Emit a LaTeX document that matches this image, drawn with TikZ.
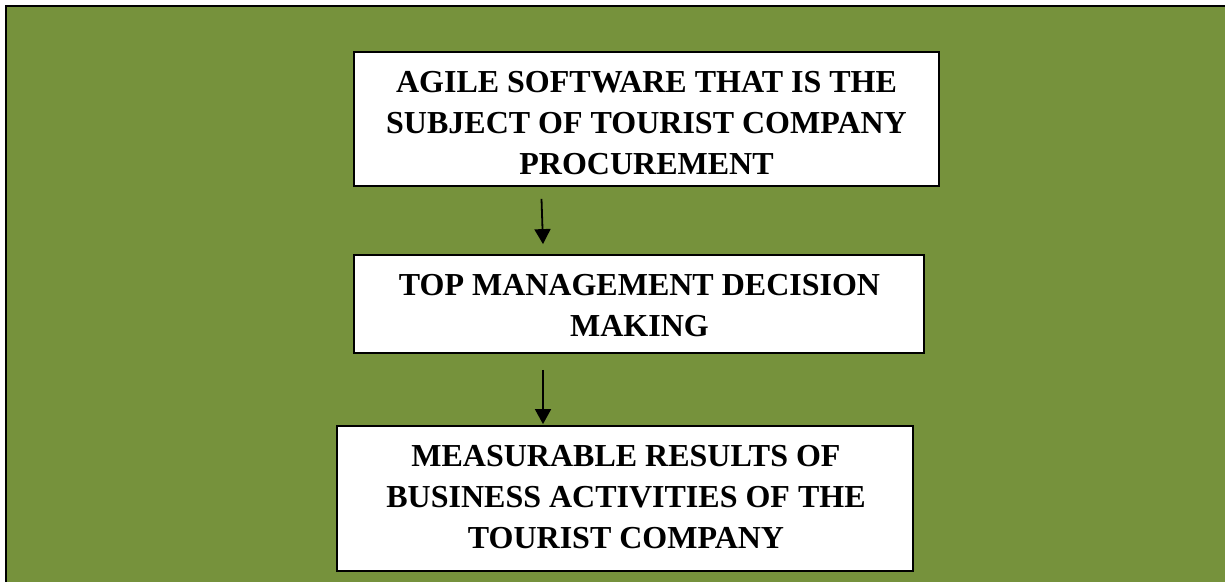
\documentclass[tikz,border=0pt]{standalone}
\usepackage{fontspec}
\setmainfont{Liberation Serif}
\usetikzlibrary{arrows.meta,calc}
\definecolor{olivebg}{RGB}{118,146,60}
\begin{document}
\begin{tikzpicture}[x=1pt,y=-1pt,
  frame/.style={fill=olivebg,draw=black,line width=2.5pt},
  box/.style={draw=black,fill=white,line width=1.8pt,inner sep=0pt},
  txt/.style={font=\bfseries\fontsize{32}{41}\selectfont,align=center,inner sep=0pt},
  arr/.style={line width=1.8pt,-{Triangle[length=15pt,width=16pt]}}]
\useasboundingbox (0,0) rectangle (1225,581);
\clip (0,0) rectangle (1225,581);
\fill[white] (0,0) rectangle (1225,581);
\draw[frame] (6,6) rectangle (1260,620);
% boxes
\node[box,minimum width=585pt,minimum height=134pt] (b1) at (646.5,119) {};
\node[txt] (t1) at (646.5,123.3) {AGILE SOFTWARE THAT IS THE\\SUBJECT OF TOURIST COMPANY\\PROCUREMENT};
\node[box,minimum width=570pt,minimum height=98pt] (b2) at (639,304) {};
\node[txt] (t2) at (639.5,306) {TOP MANAGEMENT DECISION\\MAKING};
\node[box,minimum width=576pt,minimum height=145pt] (b3) at (625,498.5) {};
\node[txt] (t3) at (626,497) {MEASURABLE RESULTS OF\\BUSINESS ACTIVITIES OF THE\\TOURIST COMPANY};
% arrows
\coordinate (xa) at (541.5,0);
\coordinate (xb) at (543,0);
\draw[arr] ($(b1.south -| xa)+(0,12)$) -- ($(b2.north -| xb)+(0,-10)$);
\draw[arr] ($(b2.south -| xb)+(0,16)$) -- ($(b3.north -| xb)+(0,-1)$);
\end{tikzpicture}
\end{document}
